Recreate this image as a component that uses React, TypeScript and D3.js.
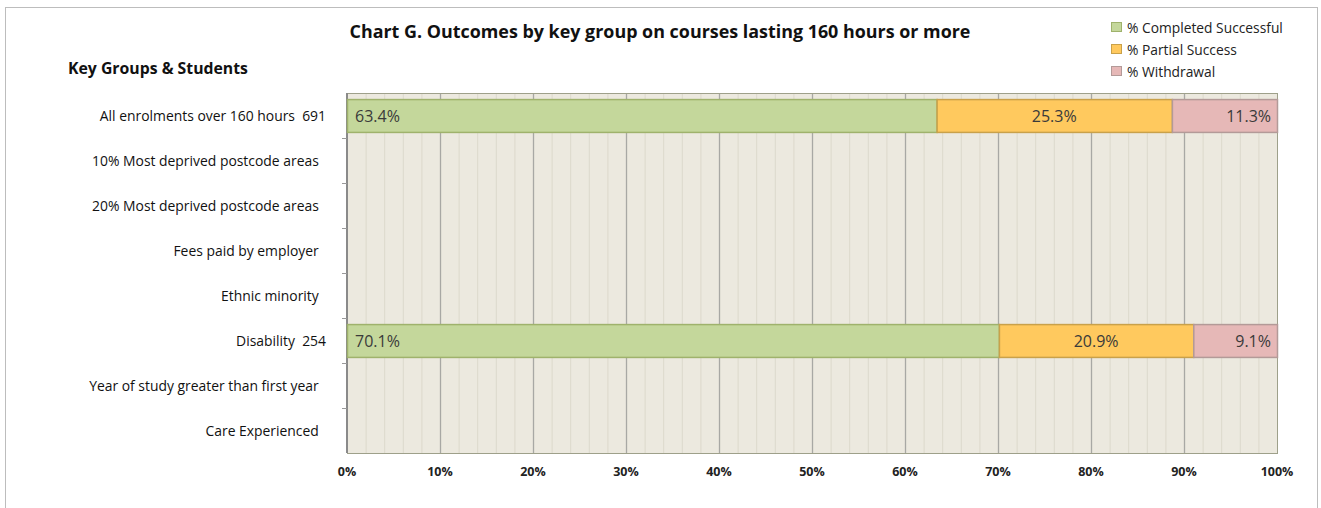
import { useRef, useEffect } from 'react'
import * as d3 from 'd3'

const groups = [
  'All enrolments over 160 hours',
  '10% Most deprived postcode areas',
  '20% Most deprived postcode areas',
  'Fees paid by employer',
  'Ethnic minority',
  'Disability',
  'Year of study greater than first year',
  'Care Experienced',
]
const counts = [691, null, null, null, null, 254, null, null]
const completed = [63.4, null, null, null, null, 70.1, null, null]
const partial = [25.3, null, null, null, null, 20.9, null, null]
const withdrawal = [11.3, null, null, null, null, 9.1, null, null]
const seriesNames = ['% Completed Successful', '% Partial Success', '% Withdrawal']
const xTicks = [0, 10, 20, 30, 40, 50, 60, 70, 80, 90, 100]

const FONT = '"Open Sans", "Noto Sans", sans-serif'

export default function App() {
  const svgRef = useRef<SVGSVGElement>(null)
  const width = 1321
  const height = 508

  useEffect(() => {
    if (!svgRef.current) return
    const svg = d3.select(svgRef.current)
    svg.selectAll('*').remove()

    // category label = group name + two spaces + count (blank if no count)
    const categories = groups.map((g, i) => `${g}  ${counts[i] ?? ''}`)

    // outer frame
    svg.append('rect')
      .attr('x', 5.5).attr('y', 7.5).attr('width', 1312).attr('height', 520)
      .attr('fill', '#fff').attr('stroke', '#bdbdbd')

    const left = 347, right = 1277, top = 93, bottom = 453
    const x = d3.scaleLinear().domain([0, 100]).range([left, right])
    const y = d3.scaleBand<string>().domain(categories).range([top, bottom]).paddingInner(0.27).paddingOuter(0.135)
    const band = d3.scaleBand<string>().domain(categories).range([top, bottom])

    svg.append('rect')
      .attr('x', left).attr('y', top).attr('width', right - left).attr('height', bottom - top)
      .attr('fill', '#ece9df')

    // gridlines
    const minor = d3.range(2, 100, 2).filter((v) => v % 10 !== 0)
    svg.append('g').selectAll('line').data(minor).join('line')
      .attr('x1', (d) => x(d) + 0.5).attr('x2', (d) => x(d) + 0.5)
      .attr('y1', top).attr('y2', bottom)
      .attr('stroke', '#dcd9cc').attr('stroke-width', 1)
    svg.append('g').selectAll('line').data(xTicks.slice(1, -1)).join('line')
      .attr('x1', (d) => x(d) + 0.5).attr('x2', (d) => x(d) + 0.5)
      .attr('y1', top).attr('y2', bottom)
      .attr('stroke', '#a8a8a4').attr('stroke-width', 1.3)

    // plot border
    svg.append('rect')
      .attr('x', left + 0.5).attr('y', top + 0.5).attr('width', right - left).attr('height', bottom - top)
      .attr('fill', 'none').attr('stroke', '#9ea08a')

    // left axis
    svg.append('line')
      .attr('x1', left).attr('x2', left).attr('y1', top).attr('y2', bottom)
      .attr('stroke', '#8a8a8a').attr('stroke-width', 2)
    svg.append('g').selectAll('line').data(categories.slice(1)).join('line')
      .attr('x1', left - 5).attr('x2', left)
      .attr('y1', (d) => (band(d) ?? 0) + 0.5).attr('y2', (d) => (band(d) ?? 0) + 0.5)
      .attr('stroke', '#999')

    // bars
    const colors = ['#c4d79b', '#ffc95e', '#e6b8b7']
    const strokes = ['#9fb26c', '#c9a14a', '#b39a98']
    const series = [completed, partial, withdrawal]
    categories.forEach((c, i) => {
      let acc = 0
      series.forEach((s, k) => {
        const v = s[i]
        if (v == null) return
        const x0 = x(acc), x1 = x(Math.min(acc + v, 100))
        const yy = y(c) ?? 0
        svg.append('rect')
          .attr('x', x0 + 0.5).attr('y', yy + 0.5).attr('width', x1 - x0).attr('height', y.bandwidth())
          .attr('fill', colors[k]).attr('stroke', strokes[k]).attr('stroke-width', 1.5)
        const lx = k === 0 ? x0 + 8 : k === 1 ? (x0 + x1) / 2 : x1 - 6
        svg.append('text')
          .attr('x', lx).attr('y', yy + y.bandwidth() / 2 + 6)
          .attr('text-anchor', k === 0 ? 'start' : k === 1 ? 'middle' : 'end')
          .attr('font-family', FONT).attr('font-size', 16).attr('fill', '#3a3a3a')
          .text(`${v.toFixed(1)}%`)
        acc += v
      })
    })

    // category labels
    svg.append('g').selectAll('text').data(categories).join('text')
      .attr('x', 326).attr('y', (d) => (band(d) ?? 0) + band.bandwidth() / 2 + 5)
      .attr('text-anchor', 'end')
      .style('white-space', 'pre')
      .attr('font-family', FONT).attr('font-size', 13.9).attr('fill', '#111')
      .text((d) => d)

    // x tick labels
    svg.append('g').selectAll('text').data(xTicks).join('text')
      .attr('x', (d) => x(d)).attr('y', 475.5)
      .attr('text-anchor', 'middle')
      .attr('font-family', FONT).attr('font-size', 12.5).attr('font-weight', 'bold').attr('fill', '#222')
      .text((d) => `${d}%`)

    // titles
    svg.append('text')
      .attr('x', 660).attr('y', 38).attr('text-anchor', 'middle')
      .attr('font-family', FONT).attr('font-size', 17.9).attr('font-weight', 'bold').attr('fill', '#111')
      .text('Chart G. Outcomes by key group on courses lasting 160 hours or more')
    svg.append('text')
      .attr('x', 68).attr('y', 74)
      .attr('font-family', FONT).attr('font-size', 15.8).attr('font-weight', 'bold').attr('fill', '#111')
      .text('Key Groups & Students')

    // legend
    const lg = svg.append('g')
    seriesNames.forEach((n, k) => {
      const ly = 28 + k * 22
      lg.append('rect')
        .attr('x', 1111.5).attr('y', ly - 5.5).attr('width', 10).attr('height', 9)
        .attr('fill', colors[k]).attr('stroke', strokes[k])
      lg.append('text')
        .attr('x', 1127).attr('y', ly + 4.5)
        .attr('font-family', FONT).attr('font-size', 13.8).attr('fill', '#222')
        .text(n)
    })
  }, [])

  return (
    <div style={{ position: 'absolute', left: 0, top: 0 }}>
      <svg ref={svgRef} width={width} height={height} style={{ display: 'block' }} />
    </div>
  )
}
